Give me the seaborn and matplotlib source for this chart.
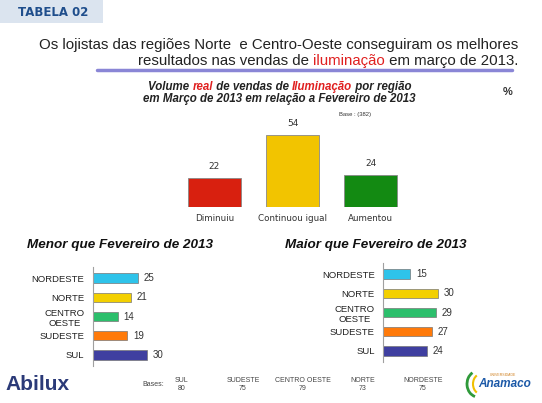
import matplotlib
matplotlib.use("Agg")
import matplotlib.pyplot as plt
import seaborn as sns
import pandas as pd
from matplotlib.patches import Rectangle

# dados
cat_topo = ["Diminuiu", "Continuou igual", "Aumentou"]
val_topo = [22, 54, 24]
cor_topo = ["#d8200f", "#f2c400", "#138a12"]

regioes = ["NORDESTE", "NORTE", "CENTRO\nOESTE", "SUDESTE", "SUL"]
menor = [25, 21, 14, 19, 30]
maior = [15, 30, 29, 27, 24]
cor_reg = ["#2ec3ea", "#f3d000", "#2cbf6c", "#ff7a0a", "#3f3fa0"]

bases_nome = ["SUL", "SUDESTE", "CENTRO OESTE", "NORTE", "NORDESTE"]
bases_n = [80, 75, 79, 73, 75]

sns.set_theme(style="white")
plt.rcParams["font.family"] = ["Liberation Sans", "DejaVu Sans"]

W, H = 542, 403
fig = plt.figure(figsize=(W / 100, H / 100), dpi=100)
fig.patch.set_facecolor("white")


def px(x, y):
    return x / W, 1 - y / H


def eixo(x0, y0, x1, y1):
    # caixa em pixels (topo-esquerda, baixo-direita)
    return fig.add_axes([x0 / W, 1 - y1 / H, (x1 - x0) / W, (y1 - y0) / H])


fig.canvas.draw()
r = fig.canvas.get_renderer()


def linha_colorida(partes, x, y, ha="left", **kw):
    # escreve pedacos de texto com cores diferentes na mesma linha
    ts = [fig.text(0, 1 - y / H, txt, color=c, ha="left", va="center", **kw) for txt, c in partes]
    larg = [t.get_window_extent(r).width for t in ts]
    tot = sum(larg)
    if ha == "right":
        x0 = x - tot
    elif ha == "center":
        x0 = x - tot / 2
    else:
        x0 = x
    for t, w in zip(ts, larg):
        t.set_x(x0 / W)
        x0 += w


# cabecalho "TABELA 02"
fig.patches.append(Rectangle(px(0, 23), 103 / W, 23 / H, transform=fig.transFigure,
                             facecolor="#dbe4ef", edgecolor="none"))
fig.text(*px(18, 12), "TABELA 02", fontsize=8.5, fontweight="bold", color="#1f4e8c",
         family="DejaVu Sans", va="center", ha="left")

# manchete
fig.text(*px(518, 45), "Os lojistas das regiões Norte  e Centro-Oeste conseguiram os melhores",
         fontsize=10.8, ha="right", va="center", color="#222222")
linha_colorida([("resultados nas vendas de ", "#222222"), ("iluminação", "#e02020"),
                (" em março de 2013.", "#222222")], 518, 61, ha="right", fontsize=10.8)
fig.add_artist(plt.Line2D([97 / W, 512 / W], [1 - 70 / H, 1 - 70 / H], color="#8a86d6", lw=2.5,
                          transform=fig.transFigure))

# subtitulo
estilo = dict(fontsize=8.3, fontweight="bold", fontstyle="italic")
linha_colorida([("Volume ", "#222222"), ("real", "#e02020"), (" de vendas de ", "#222222"),
                ("Iluminação", "#e02020"), (" por região", "#222222")], 280, 87, ha="center", **estilo)
fig.text(*px(279, 99), "em Março de 2013 em relação a Fevereiro de 2013", color="#222222",
         ha="center", va="center", **estilo)
fig.text(*px(508, 92), "%", fontsize=8, fontweight="bold", color="#333333", ha="center", va="center")
fig.text(*px(355, 115), "Base : (382)", fontsize=4.2, color="#333333", ha="center", va="center")

# grafico de cima
ax = eixo(152, 120, 433, 207)
df_topo = pd.DataFrame({"cat": cat_topo, "val": val_topo})
sns.barplot(data=df_topo, x="cat", y="val", hue="cat", palette=cor_topo, width=0.67, saturation=1,
            edgecolor="#888888", linewidth=0.6, legend=False, ax=ax)
ax.set_xlim(-0.8, 2.8)
ax.set_ylim(0, 65)
for cont in ax.containers:
    ax.bar_label(cont, padding=5, fontsize=6.5, color="#333333", family="DejaVu Sans")
ax.set_xlabel("")
ax.set_ylabel("")
ax.set_yticks([])
ax.tick_params(axis="x", length=0, pad=5, labelsize=6.3, labelcolor="#333333")
for lb in ax.get_xticklabels():
    lb.set_family("DejaVu Sans")
sns.despine(ax=ax, left=True, bottom=True)
ax.patch.set_alpha(0)


def barras_h(ax, vals, titulo, tx):
    d = pd.DataFrame({"reg": regioes, "val": vals})
    sns.barplot(data=d, y="reg", x="val", hue="reg", palette=cor_reg, width=0.52, saturation=1,
                edgecolor="#777777", linewidth=0.5, legend=False, ax=ax, orient="h")
    ax.set_ylim(4.6, -0.6)
    ax.set_xlim(0, 40)
    for cont in ax.containers:
        ax.bar_label(cont, padding=4, fontsize=7, color="#333333")
    ax.set_xlabel("")
    ax.set_ylabel("")
    ax.set_xticks([])
    ax.tick_params(axis="y", length=0, pad=6, labelsize=6.8, labelcolor="#222222")
    for lb in ax.get_yticklabels():
        lb.set_multialignment("center")
        lb.set_linespacing(1.25)
    sns.despine(ax=ax, top=True, right=True, bottom=True)
    ax.spines["left"].set_color("#a0a0a0")
    ax.spines["left"].set_linewidth(0.8)
    ax.patch.set_alpha(0)
    fig.text(*px(tx, 245), titulo, fontsize=9.7, fontweight="bold", fontstyle="italic",
             color="#111111", ha="left", va="center")


ax_l = eixo(92.7, 267, 165.5, 366)
barras_h(ax_l, menor, "Menor que Fevereiro de 2013", 27)
ax_r = eixo(383, 263, 456, 362)
barras_h(ax_r, maior, "Maior que Fevereiro de 2013", 285)

# rodape
fig.text(*px(5, 385), "Abilux", fontsize=15, fontweight="bold", color="#2b3a78", ha="left", va="center")
fig.text(*px(153, 384), "Bases:", fontsize=5, color="#444444", ha="center", va="center")
bases_x = [182, 243, 303, 363, 423]
for xx, nome, n in zip(bases_x, bases_nome, bases_n):
    fig.text(*px(xx, 380), nome, fontsize=5, color="#444444", ha="center", va="center")
    fig.text(*px(xx, 388), str(n), fontsize=5, color="#444444", ha="center", va="center")
fig.text(*px(490, 375), "UNIVERSIDADE", fontsize=2.5, color="#d08020", ha="left", va="center")
fig.text(*px(478, 384), "Anamaco", fontsize=8.5, fontweight="bold", fontstyle="italic",
         color="#1d5aa8", ha="left", va="center")
fig.add_artist(matplotlib.patches.Arc(px(478, 384), 22 / W, 26 / H, theta1=110, theta2=260,
                                      color="#2f9a3a", lw=2, transform=fig.transFigure))
fig.add_artist(matplotlib.patches.Arc(px(481, 384), 16 / W, 20 / H, theta1=110, theta2=250,
                                      color="#f0c000", lw=1.5, transform=fig.transFigure))

fig.savefig("out.png", dpi=100)
